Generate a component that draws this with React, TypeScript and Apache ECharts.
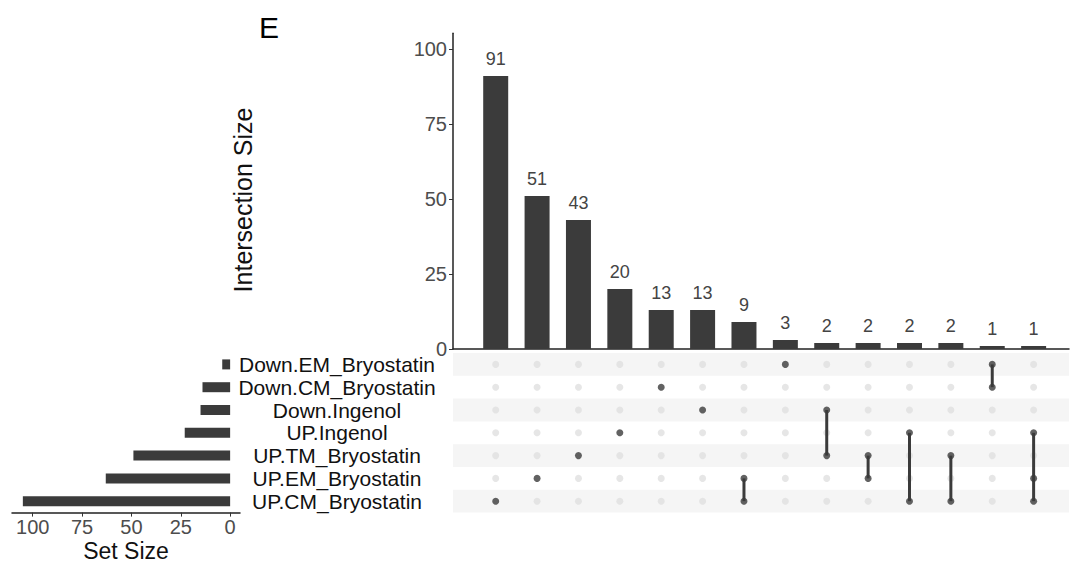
import React, { useEffect, useRef } from "react";
import * as echarts from "echarts";

const setNames = [
  "Down.EM_Bryostatin",
  "Down.CM_Bryostatin",
  "Down.Ingenol",
  "UP.Ingenol",
  "UP.TM_Bryostatin",
  "UP.EM_Bryostatin",
  "UP.CM_Bryostatin",
];
const setSizes = [4, 14, 15, 23, 49, 63, 105];
const intersectionSizes = [91, 51, 43, 20, 13, 13, 9, 3, 2, 2, 2, 2, 1, 1];
const intersectionMembers = [
  ["UP.CM_Bryostatin"],
  ["UP.EM_Bryostatin"],
  ["UP.TM_Bryostatin"],
  ["UP.Ingenol"],
  ["Down.CM_Bryostatin"],
  ["Down.Ingenol"],
  ["UP.EM_Bryostatin", "UP.CM_Bryostatin"],
  ["Down.EM_Bryostatin"],
  ["Down.Ingenol", "UP.TM_Bryostatin"],
  ["UP.TM_Bryostatin", "UP.EM_Bryostatin"],
  ["UP.Ingenol", "UP.CM_Bryostatin"],
  ["UP.TM_Bryostatin", "UP.CM_Bryostatin"],
  ["Down.EM_Bryostatin", "Down.CM_Bryostatin"],
  ["UP.Ingenol", "UP.EM_Bryostatin", "UP.CM_Bryostatin"],
];
const intersectionTicks = [0, 25, 50, 75, 100];
const setSizeTicks = [0, 25, 50, 75, 100];

const DARK = "#3b3b3b";
const FONT = "Liberation Sans, Arial, Helvetica, sans-serif";

export default function App() {
  const ref = useRef<HTMLDivElement>(null);

  useEffect(() => {
    if (!ref.current) return;
    const chart = echarts.init(ref.current, null, { renderer: "svg" });

    const grayDots: number[][] = [];
    const darkDots: number[][] = [];
    const links: number[][] = [];
    intersectionMembers.forEach((members, i) => {
      const rows = members.map((m) => setNames.indexOf(m));
      setNames.forEach((_, r) => {
        if (rows.indexOf(r) >= 0) darkDots.push([i, r]);
        else grayDots.push([i, r]);
      });
      if (rows.length > 1) {
        links.push([i, Math.min(...rows), Math.max(...rows)]);
      }
    });

    const xMin = -1.032;
    const xMax = 13.855;

    const option: any = {
      animation: false,
      textStyle: { fontFamily: FONT },
      grid: [
        { left: 453, top: 33.3, width: 616, height: 315.7 },
        { left: 453, top: 353, width: 616, height: 159.6 },
        { left: 12, top: 353, width: 228, height: 159.6 },
      ],
      xAxis: [
        {
          gridIndex: 0,
          type: "value",
          min: xMin,
          max: xMax,
          axisLine: { show: true, onZero: false, lineStyle: { color: "#222", width: 1.5 } },
          axisTick: { show: false },
          axisLabel: { show: false },
          splitLine: { show: false },
        },
        {
          gridIndex: 1,
          type: "value",
          min: xMin,
          max: xMax,
          axisLine: { show: false },
          axisTick: { show: false },
          axisLabel: { show: false },
          splitLine: { show: false },
        },
        {
          gridIndex: 2,
          type: "value",
          inverse: true,
          min: -5,
          max: 110.5,
          axisLine: { show: true, onZero: false, lineStyle: { color: "#222", width: 1.5 } },
          axisTick: {
            show: true,
            customValues: setSizeTicks,
            length: 4,
            lineStyle: { color: "#333" },
          },
          axisLabel: {
            show: true,
            customValues: setSizeTicks,
            fontSize: 20,
            color: "#4d4d4d",
            margin: 4,
          },
          splitLine: { show: false },
        },
      ],
      yAxis: [
        {
          gridIndex: 0,
          type: "value",
          min: 0,
          max: 105.2,
          axisLine: { show: true, onZero: false, lineStyle: { color: "#222", width: 1.5 } },
          axisTick: {
            show: true,
            customValues: intersectionTicks,
            length: 4,
            lineStyle: { color: "#333" },
          },
          axisLabel: {
            show: true,
            customValues: intersectionTicks,
            fontSize: 20,
            lineHeight: 14,
            color: "#4d4d4d",
            margin: 6,
          },
          splitLine: { show: false },
        },
        {
          gridIndex: 1,
          type: "value",
          min: -0.5,
          max: 6.5,
          inverse: true,
          axisLine: { show: false },
          axisTick: { show: false },
          axisLabel: {
            show: true,
            customValues: [0, 1, 2, 3, 4, 5, 6],
            formatter: (v: number) => setNames[Math.round(v)],
            align: "center",
            margin: 116,
            fontSize: 21,
            lineHeight: 16,
            color: "#111",
          },
          splitLine: { show: false },
        },
        {
          gridIndex: 2,
          type: "category",
          data: setNames,
          inverse: true,
          axisLine: { show: false },
          axisTick: { show: false },
          axisLabel: { show: false },
          splitLine: { show: false },
        },
      ],
      series: [
        {
          type: "bar",
          xAxisIndex: 0,
          yAxisIndex: 0,
          data: intersectionSizes.map((v, i) => [i, v]),
          barWidth: 25,
          itemStyle: { color: DARK },
          label: {
            show: true,
            position: "top",
            distance: 8,
            fontSize: 18,
            color: "#444",
            formatter: (p: any) => String(p.value[1]),
          },
        },
        {
          type: "scatter",
          xAxisIndex: 1,
          yAxisIndex: 1,
          data: grayDots,
          symbolSize: 7,
          itemStyle: { color: "#e0e0e0" },
          markArea: {
            silent: true,
            itemStyle: { color: "#f5f5f5" },
            data: [
              [{ yAxis: -0.5 }, { yAxis: 0.5 }],
              [{ yAxis: 1.5 }, { yAxis: 2.5 }],
              [{ yAxis: 3.5 }, { yAxis: 4.5 }],
              [{ yAxis: 5.5 }, { yAxis: 6.5 }],
            ],
          },
          z: 2,
        },
        {
          type: "custom",
          xAxisIndex: 1,
          yAxisIndex: 1,
          data: links,
          encode: { x: 0, y: [1, 2] },
          renderItem: (params: any, api: any) => {
            const x = api.value(0);
            const a = api.coord([x, api.value(1)]);
            const b = api.coord([x, api.value(2)]);
            return {
              type: "line",
              shape: { x1: a[0], y1: a[1], x2: b[0], y2: b[1] },
              style: { stroke: DARK, lineWidth: 3 },
            };
          },
          z: 3,
        },
        {
          type: "scatter",
          xAxisIndex: 1,
          yAxisIndex: 1,
          data: darkDots,
          symbolSize: 7,
          itemStyle: { color: DARK },
          z: 4,
        },
        {
          type: "bar",
          xAxisIndex: 2,
          yAxisIndex: 2,
          data: setSizes,
          barWidth: 10,
          itemStyle: { color: DARK },
        },
      ],
      graphic: [
        {
          type: "text",
          x: 259,
          y: 27,
          style: {
            text: "E",
            fontSize: 30,
            fontFamily: FONT,
            fill: "#000",
            textAlign: "left",
            textVerticalAlign: "middle",
          },
        },
        {
          type: "text",
          x: 243,
          y: 200,
          rotation: Math.PI / 2,
          style: {
            text: "Intersection Size",
            fontSize: 25,
            fontFamily: FONT,
            fill: "#111",
            textAlign: "center",
            textVerticalAlign: "middle",
          },
        },
        {
          type: "text",
          x: 126,
          y: 551,
          style: {
            text: "Set Size",
            fontSize: 23,
            fontFamily: FONT,
            fill: "#111",
            textAlign: "center",
            textVerticalAlign: "middle",
          },
        },
      ],
    };

    chart.setOption(option);
    return () => chart.dispose();
  }, []);

  return (
    <div
      ref={ref}
      style={{ position: "fixed", left: 0, top: 0, width: 1070, height: 563, background: "#fff" }}
    />
  );
}
